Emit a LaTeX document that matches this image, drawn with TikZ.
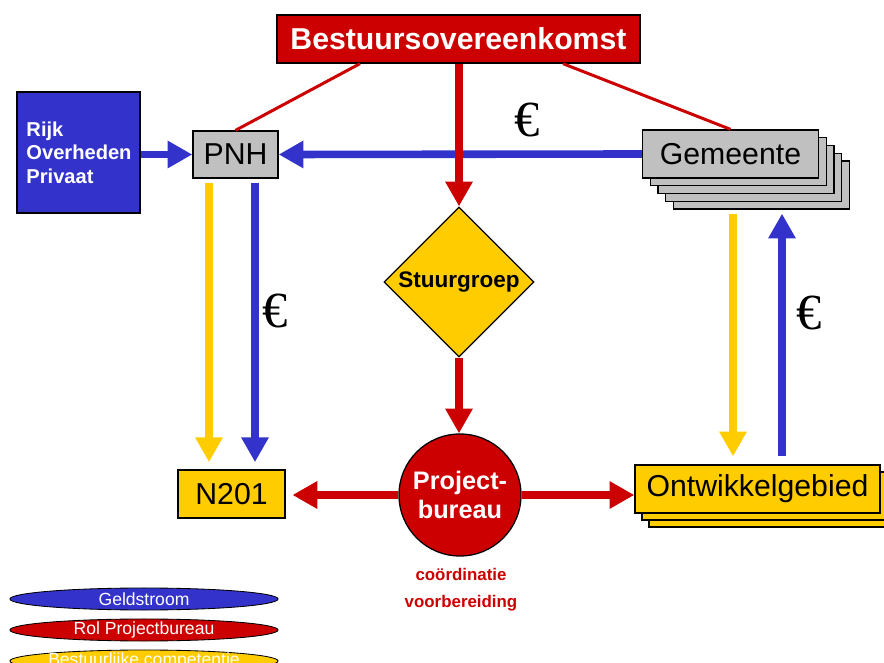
\documentclass[tikz,border=0pt]{standalone}
\usepackage{fontspec}
\setmainfont{Liberation Sans}
\newfontfamily\eurofont{Liberation Serif}
\usepackage{tikz}
\usetikzlibrary{arrows.meta,positioning,calc,shapes.geometric}
\definecolor{rood}{HTML}{CC0000}
\definecolor{blauw}{HTML}{3333CC}
\definecolor{geel}{HTML}{FFCC00}
\definecolor{grijs}{HTML}{C0C0C0}
\tikzset{box/.style={draw=black,line width=0.9pt,minimum height=1.2cm,inner sep=0pt,
  font=\fontsize{21.5}{24}\selectfont},
  flow/.style={-{Triangle[length=6.2mm,width=6.5mm]},line width=1.9mm},
  link/.style={draw=rood,line width=0.75mm},
  euro/.style={font=\eurofont\fontsize{36}{36}\selectfont},
  legend/.style={ellipse,draw=black,line width=0.6pt,minimum width=6.7cm,
  minimum height=0.55cm,inner sep=0pt},
  legtext/.style={text=white,font=\fontsize{12.5}{14}\selectfont}}

\begin{document}
\begin{tikzpicture}[x=0.025cm,y=-0.025cm]
\useasboundingbox (0,0) rectangle (884,663);
% boxes
\node[box,fill=rood,text=white,minimum width=9.075cm,font=\bfseries\fontsize{21.5}{24}\selectfont] (bvk) at (458.5,39) {Bestuursovereenkomst};
\node[box,fill=blauw,text=white,minimum width=3.075cm,minimum height=3.025cm,text width=2.6cm,align=left,font=\bfseries\fontsize{14.3}{16.7}\selectfont] (rijk) at (78.5,152.5) {Rijk\\Overheden\\Privaat};
\node[box,fill=grijs,minimum width=2.125cm,minimum height=1.175cm] (pnh) at (235.5,154.5) {PNH};
\foreach \i in {4,3,2,1}
  \node[box,fill=grijs,minimum width=4.4cm] (gem\i) at ($(730.5,154)+(7.75*\i,7.75*\i)$) {};
\node[box,fill=grijs,minimum width=4.4cm] (gem) at (730.5,154) {Gemeente};
\node[diamond,draw=black,line width=0.9pt,fill=geel,minimum width=3.75cm,minimum height=3.75cm,inner sep=0pt,font=\bfseries\fontsize{16}{18}\selectfont] (stuur) at (459,282) {Stuurgroep};
\node[circle,draw=black,line width=0.9pt,fill=rood,text=white,minimum size=3.05cm,inner sep=0pt,align=center,font=\bfseries\fontsize{18}{21}\selectfont] (pb) at (460,495) {Project-\\bureau};
\node[align=center,text=rood,font=\bfseries\fontsize{12}{19}\selectfont] (taak) at (461,590) {coördinatie\\voorbereiding};
\node[box,fill=geel,minimum width=2.675cm] (n201) at (231.5,494) {N201};
\foreach \i in {2,1}
  \node[box,fill=geel,minimum width=6.125cm] (ont\i) at ($(757.5,489)+(7*\i,7*\i)$) {};
\node[box,fill=geel,minimum width=6.125cm] (ont) at (757.5,489) {Ontwikkelgebied};
% connectors
\draw[link] ($(bvk.south)+(-98.5,0)$) -- (pnh.north);
\draw[link] ($(bvk.south)+(104.5,0)$) -- (gem.north);
\draw[flow,blauw] (rijk.east |- pnh.west) -- (pnh.west);
\draw[flow,blauw] (gem.west) -- (pnh.east);
\node[euro] (e1) at (527,120) {€};
\draw[flow,rood] (stuur.north |- bvk.south) -- (stuur.north);
\draw[flow,rood] (stuur.south) -- (stuur.south |- pb.north);
\draw[flow,rood,shorten >=1.7mm] (pb.west) -- (pb.west -| n201.east);
\draw[flow,rood] (pb.east) -- (pb.east -| ont.west);
\coordinate (pnhY) at ($(pnh.south)+(-26.5,0)$);
\coordinate (pnhB) at ($(pnh.south)+(19.5,0)$);
\draw[flow,geel,shorten <=1mm,shorten >=1.8mm] (pnhY) -- (pnhY |- n201.north);
\draw[flow,blauw,shorten <=1mm,shorten >=1.8mm] (pnhB) -- (pnhB |- n201.north);
\node[euro] (e2) at (275,311) {€};
\coordinate (gemY) at ($(gem4.south)+(-28.5,0)$);
\coordinate (gemB) at ($(gem4.south)+(20.5,0)$);
\draw[flow,geel,shorten <=1mm,shorten >=2mm] (gemY) -- (gemY |- ont.north);
\draw[flow,blauw,shorten <=2mm,shorten >=1mm] (gemB |- ont.north) -- (gemB);
\node[euro] (e3) at (809,313) {€};
% legenda
\node[legend,fill=blauw,label={[legtext]center:Geldstroom}] (lg1) at (144,599) {};
\node[legend,fill=rood,label={[legtext]center:Rol Projectbureau}] (lg2) at (144,630) {};
\node[legend,fill=geel,label={[legtext]center:Bestuurlijke competentie}] (lg3) at (144,661) {};
\end{tikzpicture}
\end{document}
